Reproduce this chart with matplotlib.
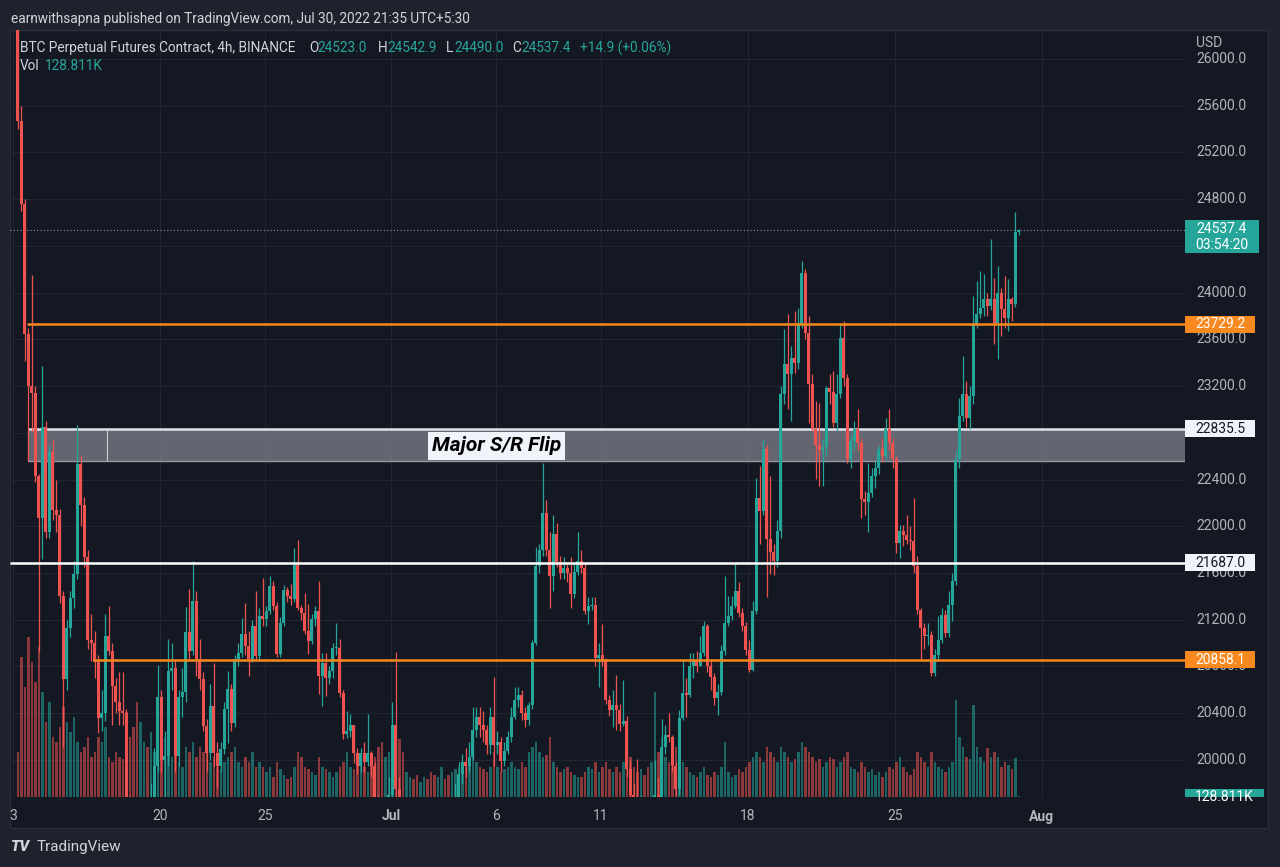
import matplotlib
matplotlib.use("Agg")
import matplotlib.pyplot as plt
import matplotlib.transforms as mtransforms
from matplotlib.patches import Rectangle
import pandas as pd

plt.rcParams['font.family'] = ['Roboto', 'DejaVu Sans']

# =========================
# Datos: BTC perp 4h (BINANCE)
# =========================
bar_start = "2022-06-13 00:00"      # primera vela 4h (UTC)
first_open = 26574.0
last_open = 24523.0                 # apertura de la vela en curso

closes = [
    25470, 24760, 23645, 23205, 23142, 22430,   # Jun 13
    22074, 22849, 21948, 22640, 22137, 22100,   # Jun 14
    21404, 20691, 21131, 21383, 21592, 22535,   # Jun 15
    22179, 21739, 21027, 21000, 20838, 20356,   # Jun 16
    20400, 21064, 20935, 20635, 20492, 20420,   # Jun 17
    20400, 19660, 19250, 18600, 17850, 18950,   # Jun 18
    19150, 19050, 19600, 19950, 20535, 20000,   # Jun 19
    20030, 20764, 20790, 20035, 20535, 20578,   # Jun 20
    21092, 20935, 21364, 20861, 20690, 20291,   # Jun 21
    20063, 20462, 20063, 19949, 20092, 20433,   # Jun 22
    20604, 20320, 20861, 20918, 21074, 20975,   # Jun 23
    20861, 21146, 20889, 21231, 21203, 21274,   # Jun 24
    21488, 21317, 20904, 21174, 21459, 21402,   # Jun 25
    21380, 21673, 21303, 21260, 21103, 21017,   # Jun 26
    21203, 21274, 20719, 20832, 20704, 20760,   # Jun 27
    20960, 20960, 20576, 20220, 20248, 20300,   # Jun 28
    20063, 19950, 20063, 19980, 20060, 19950,   # Jun 29
    19600, 19100, 18800, 19300, 19700, 20300,   # Jun 30
    19750, 19300, 19150, 19279, 19350, 19200,   # Jul 1
    19100, 19250, 19300, 19243, 19100, 18950,   # Jul 2
    19150, 19400, 19350, 19298, 19450, 19650,   # Jul 3
    19880, 19980, 19950, 20024, 20254, 20369,   # Jul 4
    20300, 20254, 20124, 20369, 20125, 20153,   # Jul 5
    19995, 20080, 20196, 20369, 20513, 20556,   # Jul 6
    20398, 20340, 20470, 21002, 21664, 21793,   # Jul 7
    22110, 21793, 21578, 21937, 21693, 21600,   # Jul 8
    21640, 21600, 21419, 21606, 21700, 21640,   # Jul 9
    21275, 21318, 21330, 20873, 20900, 20844,   # Jul 10
    20513, 20427, 20470, 20430, 20311, 20330,   # Jul 11
    19923, 19700, 19450, 19400, 19550, 19350,   # Jul 12
    19300, 19450, 19700, 19200, 20110, 20211,   # Jul 13
    20196, 19950, 19750, 20355, 20570, 20560,   # Jul 14
    20800, 20858, 20800, 20916, 21146, 20800,   # Jul 15
    20714, 20527, 20585, 20930, 21175, 21232,   # Jul 16
    21319, 21448, 21261, 21146, 20945, 20772,   # Jul 17
    21275, 22240, 22132, 22660, 21890, 21776,   # Jul 18
    21700, 21961, 23130, 23387, 23300, 23444,   # Jul 19
    23400, 23729, 24171, 23658, 23216, 22831,   # Jul 20
    22700, 22650, 22680, 23188, 23150, 22888,   # Jul 21
    23130, 23615, 23273, 22574, 22731, 22831,   # Jul 22
    22717, 22232, 22204, 22289, 22432, 22500,   # Jul 23
    22660, 22600, 22831, 22715, 22572, 21858,   # Jul 24
    21958, 21929, 21886, 21872, 21658, 21286,   # Jul 25
    21129, 21058, 21072, 20744, 20901, 21030,   # Jul 26
    21243, 21086, 21329, 21529, 22572, 22943,   # Jul 27
    23129, 22929, 23115, 23729, 23815, 23872,   # Jul 28
    23943, 23886, 23943, 23743, 24000, 23858,   # Jul 29
    23786, 23943, 23900, 24522.5, 24537.4,      # Jul 30
]

highs = [
    26800, 25600, 24800, 23700, 24150, 23200,
    22450, 23373, 22900, 22700, 22750, 22400,
    22150, 21450, 21200, 21450, 21700, 22870,
    22600, 22250, 21800, 21250, 21100, 20900,
    20600, 21250, 21321, 21000, 20700, 20750,
    20750, 20440, 19700, 19300, 18700, 19100,
    19400, 19300, 19800, 20100, 20815, 20600,
    20250, 21035, 21000, 20850, 20600, 20790,
    21307, 21464, 21707, 21450, 21032, 20750,
    20350, 20647, 20832, 20150, 20150, 20500,
    20761, 20650, 20900, 21000, 21217, 21345,
    21100, 21200, 21445, 21300, 21559, 21320,
    21573, 21530, 21350, 21220, 21500, 21480,
    21502, 21815, 21886, 21330, 21431, 21331,
    21250, 21320, 21530, 20918, 20918, 20800,
    21000, 21174, 21032, 20600, 20419, 20391,
    20300, 20100, 20100, 20150, 20391, 20080,
    19980, 19700, 19200, 19450, 19850, 20500,
    20920, 19850, 19400, 19450, 19467, 19400,
    19300, 19350, 19400, 19400, 19300, 19200,
    19300, 19648, 19550, 19450, 19600, 19800,
    19980, 20050, 20100, 20150, 20455, 20455,
    20455, 20420, 20300, 20450, 20714, 20250,
    20200, 20150, 20250, 20455, 20628, 20628,
    20600, 20450, 20500, 21030, 21822, 21850,
    22542, 22225, 21952, 22095, 22024, 21750,
    21736, 21680, 21736, 21693, 21952, 21800,
    21680, 21391, 21391, 21391, 21002, 21160,
    20873, 20560, 20599, 20729, 20480, 20685,
    20380, 20000, 19800, 20009, 19700, 19600,
    19450, 19550, 20000, 19850, 20350, 20300,
    20398, 20211, 19980, 20427, 20858, 20700,
    20916, 20916, 20930, 21060, 21189, 21160,
    20850, 20743, 20650, 20980, 21578, 21405,
    21400, 21678, 21520, 21300, 21180, 21031,
    21362, 22412, 22517, 22745, 22700, 22432,
    21850, 22050, 23202, 23686, 23815, 23544,
    23843, 23872, 24271, 24200, 23800, 23300,
    23073, 23059, 22750, 23202, 23301, 23330,
    23301, 23729, 23757, 23300, 22780, 22900,
    23002, 22760, 22300, 22546, 22500, 22560,
    22700, 22760, 22931, 23000, 22760, 22600,
    22015, 22015, 22101, 22001, 22243, 21750,
    21301, 21172, 21172, 21100, 20950, 21229,
    21300, 21280, 21443, 21600, 22650, 23100,
    23458, 23243, 23200, 23972, 24100, 24186,
    24158, 24000, 24458, 24129, 24229, 24043,
    24143, 24115, 23960, 24686, 24542.9,
]

lows = [
    25400, 24700, 23415, 22560, 22810, 22380,
    20920, 21718, 21900, 21900, 22050, 21950,
    21340, 20111, 20600, 21050, 21300, 21550,
    22000, 21650, 20950, 20850, 20700, 20232,
    20250, 20330, 20900, 20300, 20400, 20300,
    20300, 19550, 19000, 18400, 17622, 17800,
    18800, 18900, 19000, 19550, 19900, 19900,
    19637, 19950, 20600, 19900, 19950, 20370,
    20500, 20850, 20900, 20720, 20600, 20250,
    19900, 20000, 19949, 19770, 19900, 20050,
    20148, 20250, 20280, 20800, 20880, 20900,
    20718, 20840, 20850, 20850, 21150, 21150,
    21250, 21280, 20880, 20880, 21150, 21350,
    21330, 21350, 21280, 21200, 21080, 20904,
    20990, 21150, 20562, 20462, 20547, 20650,
    20700, 20900, 20540, 20180, 20191, 20200,
    19978, 19880, 19900, 19900, 19950, 19850,
    19400, 18900, 18626, 18750, 19200, 19650,
    19600, 19100, 18975, 19050, 19200, 19100,
    18977, 19050, 19150, 19150, 18900, 18782,
    18900, 19100, 19200, 19200, 19250, 19400,
    19600, 19800, 19850, 19900, 20000, 20200,
    20196, 20153, 20050, 20050, 19950, 20050,
    19900, 19950, 20050, 20150, 20350, 20450,
    20340, 20280, 20300, 20440, 20980, 21600,
    21750, 21750, 21304, 21450, 21650, 21550,
    21550, 21520, 21304, 21390, 21580, 21600,
    21250, 21160, 21280, 20801, 20628, 20800,
    20480, 20380, 20283, 20254, 20250, 20290,
    19850, 19500, 19300, 19250, 19300, 19235,
    19150, 19200, 19400, 18910, 19700, 20050,
    20150, 19900, 19616, 19700, 20340, 20370,
    20540, 20700, 20750, 20800, 20890, 20750,
    20600, 20470, 20384, 20560, 20900, 21150,
    21200, 21300, 21220, 21100, 20900, 20750,
    20764, 21250, 21850, 22100, 21391, 21591,
    21581, 21650, 21900, 23050, 23000, 22902,
    23316, 23350, 23700, 23600, 22888, 22817,
    22403, 22346, 22346, 22600, 23050, 22850,
    22817, 23100, 23200, 22546, 22503, 22650,
    22650, 22075, 22100, 21947, 22250, 22332,
    22450, 22550, 22580, 22650, 22500, 21772,
    21729, 21829, 21850, 21800, 21600, 21250,
    20858, 20950, 20980, 20715, 20720, 20850,
    21000, 21050, 21050, 21186, 21500, 22500,
    22900, 22850, 22829, 23050, 23700, 23780,
    23800, 23800, 23850, 23558, 23429, 23629,
    23700, 23672, 23760, 23880, 24490,
]

# volumen por vela (K)
volumes = [
    4500, 14000, 11000, 16000, 13500, 11500,
    15000, 10500, 7500, 9500, 6000, 5500,
    7000, 9000, 7500, 6500, 8000, 5500,
    4500, 5000, 6000, 4000, 4500, 6000,
    5500, 7000, 4000, 3500, 4500, 4000,
    3800, 8500, 6000, 7000, 9500, 7500,
    5500, 5000, 6500, 4500, 5500, 4000,
    6000, 4500, 4000, 5500, 3500, 3000,
    5000, 4500, 5500, 4000, 5000, 4500,
    5500, 3500, 4000, 3000, 2800, 3500,
    4000, 4500, 5000, 3500, 3000, 4000,
    3500, 4500, 3000, 3500, 3000, 2500,
    3000, 2000, 3500, 2800, 2200, 1800,
    2000, 3000, 4500, 4000, 3000, 2800,
    2500, 2200, 4000, 3000, 2800, 2500,
    2000, 2500, 3000, 3500, 4500, 3000,
    2800, 4000, 3500, 3000, 2500, 3500,
    4000, 5000, 5500, 4000, 4500, 5500,
    6000, 5800, 4500, 2500, 2000, 1800,
    2200, 1500, 2000, 1800, 2500, 2200,
    2000, 3000, 1800, 2200, 2500, 2800,
    3000, 3500, 3200, 4000, 4500, 3500,
    3000, 2800, 2500, 3000, 4500, 3000,
    2500, 2800, 3000, 3500, 3000, 2800,
    3500, 3000, 4500, 5000, 5500, 4500,
    4000, 4200, 6000, 3500, 3000, 2500,
    2800, 3000, 2500, 2200, 2000, 2000,
    2500, 3000, 2800, 3500, 2500, 3000,
    3500, 2800, 2500, 3000, 2500, 3500,
    4500, 4000, 3000, 2500, 2800, 2200,
    3000, 3500, 10500, 4500, 6000, 4000,
    3500, 3000, 5000, 4500, 3500, 3000,
    2500, 2200, 2000, 2500, 3000, 2200,
    2000, 2500, 2200, 3000, 5500, 2500,
    2000, 2200, 2800, 2500, 3000, 3500,
    4000, 4500, 4000, 3500, 5000, 4500,
    4000, 3500, 5000, 4500, 4000, 3500,
    3800, 4500, 5500, 5000, 4500, 4000,
    3500, 3800, 3000, 3500, 4000, 3800,
    3000, 3500, 4000, 4500, 3000, 2800,
    2500, 3500, 3000, 2500, 2800, 2200,
    2500, 2000, 2500, 3000, 2800, 3500,
    4000, 3000, 2500, 2200, 2800, 4500,
    4000, 3500, 3000, 4500, 3500, 3000,
    2800, 2500, 3000, 3500, 9700, 6000,
    5000, 4000, 3800, 9200, 5000, 4000,
    3500, 4900, 4000, 4500, 4000, 3000,
    3500, 3200, 2800, 3900, 128.811,
]

# niveles dibujados
sr_levels = [23729.2, 21687.0, 20858.1]
zone_top, zone_bottom = 22835.5, 22562.0
last_price = 24537.4

# escala de precios y fechas
price_ticks = list(range(20000, 26001, 400))
date_ticks = ["2022-06-13", "2022-06-20", "2022-06-25", "2022-07-01", "2022-07-06",
              "2022-07-11", "2022-07-18", "2022-07-25", "2022-08-01"]
date_labels = ["3", "20", "25", "Jul", "6", "11", "18", "25", "Aug"]

# =========================
# Estilo
# =========================
PAGE = "#1e222d"
CHART = "#141823"
GRID = "#222632"
TXT = "#d1d4dc"
AXTXT = "#b2b5be"
UP = "#26a69a"
DOWN = "#ef5350"
ORANGE = "#f7891f"
WHITE = "#f0f3fa"

W, H = 1280, 867
def fx(px): return px / W
def fy(py): return 1 - py / H

n = len(closes)
opens = [first_open] + closes[:-1]
opens[-1] = last_open
ks = list(range(n))
is_up = [c >= o for o, c in zip(opens, closes)]
cols = [UP if u else DOWN for u in is_up]

t0 = pd.Timestamp(bar_start)
# grafico mostrado en UTC+5:30 -> medianoche local = 18:30 UTC del dia anterior
tick_k = [((pd.Timestamp(d) - pd.Timedelta(hours=5.5)) - t0) / pd.Timedelta(hours=4) for d in date_ticks]

y_lo, y_hi = 19683, 26248
x_lo, x_hi = (10 - 17.8) / 3.5, (1185 - 17.8) / 3.5

fig = plt.figure(figsize=(12.8, 8.67), dpi=100, facecolor=PAGE)
fig.add_artist(Rectangle((fx(10), fy(828)), fx(1268) - fx(10), fy(30) - fy(828),
                         transform=fig.transFigure, fc=CHART, ec="#2a2e39", lw=1, zorder=-5))

ax = fig.add_axes([fx(10), fy(797), fx(1185) - fx(10), fy(30) - fy(797)])
ax.set_facecolor("none")
for s in ax.spines.values():
    s.set_visible(False)
ax.set_xlim(x_lo, x_hi)
ax.set_ylim(y_lo, y_hi)
ax.set_yticks(price_ticks)
ax.set_xticks(tick_k, date_labels)
ax.tick_params(axis="y", left=False, labelleft=False)
ax.tick_params(axis="x", length=0, pad=9, colors=AXTXT, labelsize=10)
for lbl in ax.get_xticklabels():
    if lbl.get_text() in ("Jul", "Aug"):
        lbl.set_fontweight("bold")
ax.grid(True, color=GRID, lw=0.8)
ax.set_axisbelow(True)

# volumen (abajo, escala propia)
vol_tr = mtransforms.blended_transform_factory(ax.transData, ax.transAxes)
VOL_FULL = 76700.0
ax.bar(ks, [v / VOL_FULL for v in volumes], width=0.74, bottom=0, color=cols,
       alpha=0.55, linewidth=0, transform=vol_tr, zorder=1)

# zona S/R
ax.add_patch(Rectangle((2.9, zone_bottom), x_hi - 2.9, zone_top - zone_bottom,
                       fc="#787b86", alpha=0.8, ec="none", zorder=2))
ax.hlines(zone_top, 2.9, x_hi, color="#e0e3eb", lw=1.8, zorder=2.2)
ax.hlines(zone_bottom, 2.9, x_hi, color="#9598a1", lw=1.0, zorder=2.2)
ax.vlines([2.9, 25.5], zone_bottom, zone_top, color="#c8cbd3", lw=0.8, zorder=2.2)

# velas
ax.vlines(ks, lows, highs, colors=cols, lw=0.9, zorder=3)
body_lo = [min(o, c) for o, c in zip(opens, closes)]
body_h = [max(abs(c - o), 8) for o, c in zip(opens, closes)]
ax.bar(ks, body_h, bottom=body_lo, width=0.76, color=cols, linewidth=0, zorder=4)

# lineas horizontales
ax.axhline(last_price, color="#8a9aa0", lw=0.8, ls=(0, (1, 2)), zorder=2.5)
ax.hlines(sr_levels[0], 2.6, x_hi, color=ORANGE, lw=1.8, zorder=5)
ax.hlines(sr_levels[1], x_lo, x_hi, color="white", lw=1.8, zorder=5)
ax.hlines(sr_levels[2], 21.5, x_hi, color=ORANGE, lw=1.8, zorder=5)

ax.text(136.8, 22688, "Major S/R Flip", ha="center", va="center", fontsize=15,
        fontweight="bold", fontstyle="italic", color="black", zorder=6,
        bbox=dict(boxstyle="square,pad=0.2", fc=WHITE, ec="none"))

# escala de precios (derecha)
sc = fig.add_axes([fx(1185), fy(797), fx(1268) - fx(1185), fy(30) - fy(797)])
sc.set_xlim(0, 83)
sc.set_ylim(y_lo, y_hi)
sc.axis("off")
usd_px = (y_hi - y_lo) / 767.0

box_prices = [last_price - 7 * usd_px, sr_levels[0], zone_top, sr_levels[1], sr_levels[2]]
box_half = [16.5 * usd_px, 8.5 * usd_px, 8.5 * usd_px, 8.5 * usd_px, 8.5 * usd_px]
for p in price_ticks:
    # etiquetas tapadas por completo por los recuadros no se ven en el original
    if any(abs(p - bp) < bh - 3 * usd_px and abs(p - bp) < 60 for bp, bh in zip(box_prices, box_half)):
        continue
    if abs(p - box_prices[0]) < box_half[0]:
        continue
    sc.text(11, p, f"{p:.1f}", ha="left", va="center", color=AXTXT, fontsize=10, clip_on=True)
sc.text(11, 0.983, "USD", transform=mtransforms.blended_transform_factory(sc.transData, sc.transAxes),
        ha="left", va="center", color=AXTXT, fontsize=10)

def price_box(price, label, fc, tc, width, height_px=17):
    hh = height_px * usd_px / 2
    sc.add_patch(Rectangle((0, price - hh), width, 2 * hh, fc=fc, ec="none", zorder=5))
    sc.text(width / 2, price, label, ha="center", va="center",
            color=tc, fontsize=10, zorder=6, linespacing=1.15)

price_box(box_prices[0], "24537.4\n03:54:20", UP, "white", 74, height_px=33)
price_box(sr_levels[0], "23729.2", ORANGE, "white", 70)
price_box(zone_top, "22835.5", WHITE, "#131722", 70)
price_box(sr_levels[1], "21687.0", WHITE, "#131722", 70)
price_box(sr_levels[2], "20858.1", ORANGE, "white", 70)
vol_level = y_lo + volumes[-1] / VOL_FULL * (y_hi - y_lo) - 1.5 * usd_px
price_box(vol_level, "128.811K", UP, "white", 79)

# textos de cabecera
chg = closes[-1] - closes[-2]
fig.text(fx(11), fy(19), "earnwithsapna published on TradingView.com, Jul 30, 2022 21:35 UTC+5:30",
         color=TXT, fontsize=9.8, va="center", ha="left")
legend_parts = [
    (20, "BTC Perpetual Futures Contract, 4h, BINANCE", TXT),
    (309, "O", TXT), (317, f"{opens[-1]:.1f}", UP),
    (378, "H", TXT), (387, f"{highs[-1]:.1f}", UP),
    (446, "L", TXT), (454, f"{lows[-1]:.1f}", UP),
    (512, "C", TXT), (521, f"{closes[-1]:.1f}", UP),
    (580, f"+{chg:.1f} (+{chg / closes[-2] * 100:.2f}%)", UP),
]
for px, s, c in legend_parts:
    fig.text(fx(px), fy(48), s, color=c, fontsize=9.8, va="center", ha="left")
fig.text(fx(20), fy(66), "Vol", color=TXT, fontsize=9.8, va="center", ha="left")
fig.text(fx(45), fy(66), f"{volumes[-1]:.3f}K", color=UP, fontsize=9.8, va="center", ha="left")

# pie
fig.text(fx(11), fy(847), "TV", color=TXT, fontsize=11, fontweight="heavy",
         fontstyle="italic", va="center", ha="left")
fig.text(fx(37), fy(847), "TradingView", color=TXT, fontsize=11, va="center", ha="left")

fig.savefig("out.png", dpi=100, facecolor=PAGE)
